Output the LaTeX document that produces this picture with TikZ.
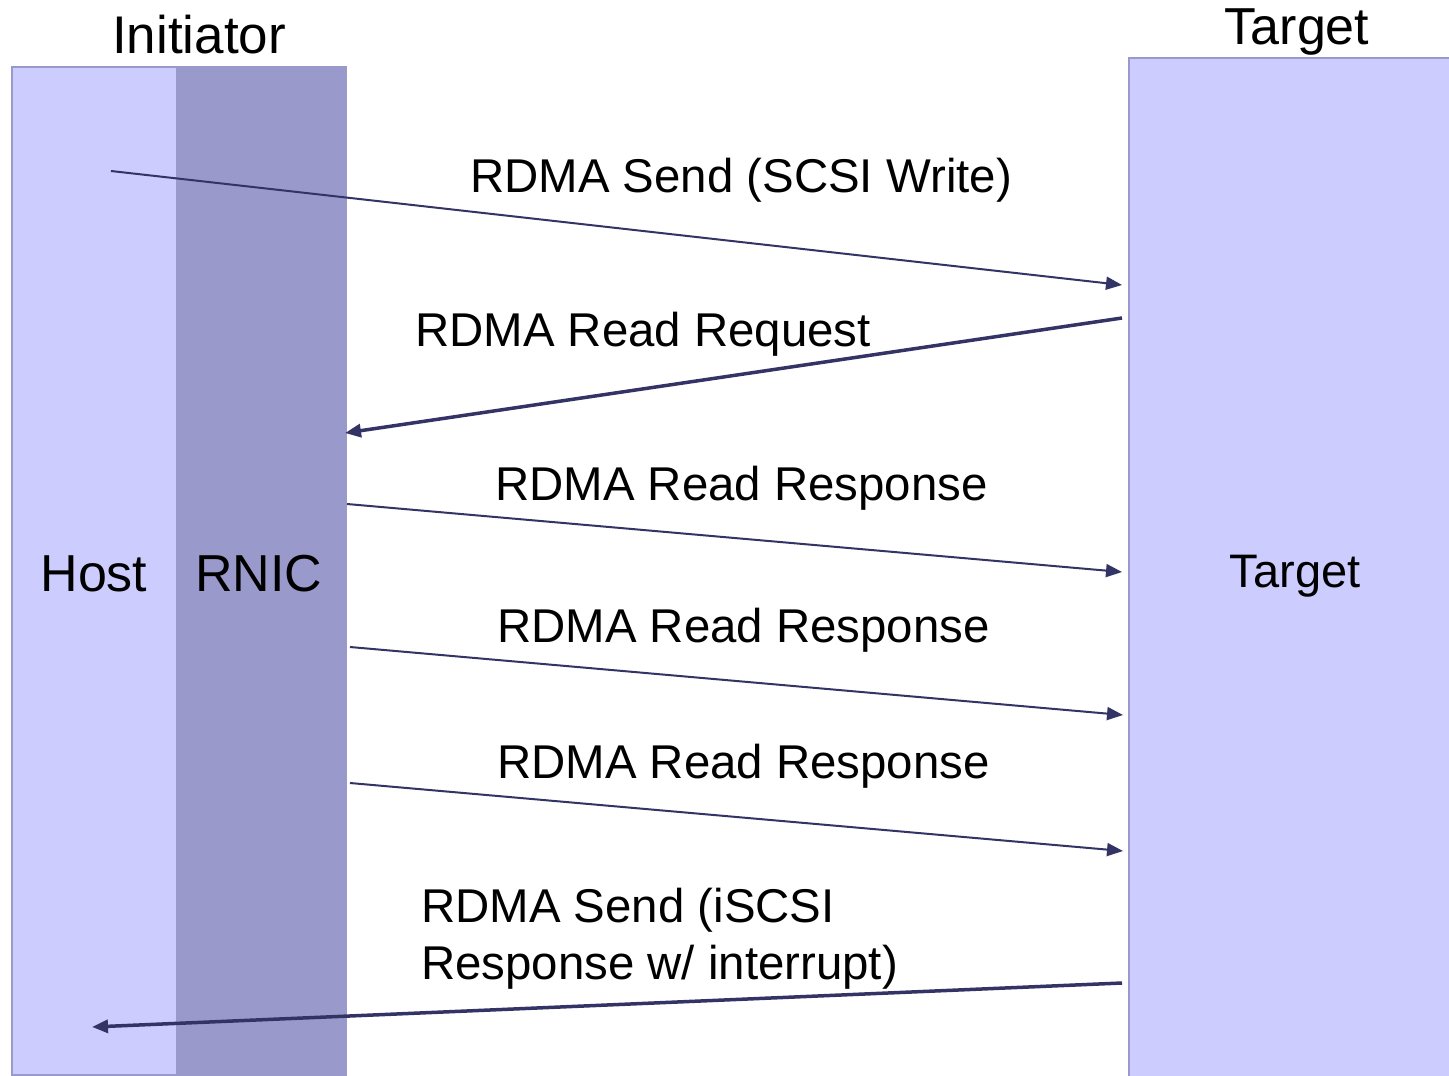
\documentclass[tikz,border=0pt]{standalone}
\usepackage{fontspec}
\setmainfont{Liberation Sans}
\usetikzlibrary{arrows.meta}
\definecolor{lanefill}{HTML}{CCCCFF}
\definecolor{nicfill}{HTML}{9999CC}
\definecolor{msgblue}{HTML}{333366}
\begin{document}
\begin{tikzpicture}[x=1pt,y=-1pt,
  lane/.style={draw=nicfill, line width=2pt, fill=lanefill, inner sep=0pt, anchor=north west},
  niclane/.style={fill=nicfill, inner sep=0pt, anchor=north west},
  msgline/.style={draw=msgblue, line width=2pt, -{Triangle[length=16pt,width=13pt]}},
  msgthick/.style={draw=msgblue, line width=3.5pt, -{Triangle[length=16pt,width=13pt]}},
  lbl/.style={anchor=base west, inner sep=0pt, font=\fontsize{47.4}{54}\selectfont},
  title/.style={anchor=base, inner sep=0pt, font=\fontsize{52}{58}\selectfont}]
\useasboundingbox (0,0) rectangle (1449,1076);
\fill[white] (0,0) rectangle (1449,1076);

% lanes
\node[lane, minimum width=165pt, minimum height=1008pt] (host) at (11,66) {};
\node[niclane, minimum width=171pt, minimum height=1012pt] (rnic) at (176,66) {};
\node[lane, minimum width=340pt, minimum height=1040pt] (target) at (1128,57) {};

% lane titles
\node[title, font=\fontsize{53}{60}\selectfont] (inittitle) at (199,53) {Initiator};
\node[title] (tgttitle) at (1297,44) {Target};
\node[title] (hostlbl) at (94,591) {Host};
\node[title] (rniclbl) at (259,591) {RNIC};
\node[title, font=\fontsize{47}{54}\selectfont] (tgtlbl) at (1295,587) {Target};

% message end points
\coordinate (m1s) at (111,171);  \coordinate (m1e) at (1122,285);
\coordinate (m2s) at (1122,318); \coordinate (m2e) at (345,433);
\coordinate (m3s) at (347,504);  \coordinate (m3e) at (1122,572);
\coordinate (m4s) at (350,647);  \coordinate (m4e) at (1123,715);
\coordinate (m5s) at (350,783);  \coordinate (m5e) at (1123,851);
\coordinate (m6s) at (1122,983); \coordinate (m6e) at (92,1027);

% messages
\draw[msgline] (m1s) -- (m1e);
\draw[msgthick] (m2s) -- (m2e);
\draw[msgline] (m3s) -- (m3e);
\draw[msgline] (m4s) -- (m4e);
\draw[msgline] (m5s) -- (m5e);
\draw[msgthick] (m6s) -- (m6e);

% message labels
\node[lbl] (l1) at (470,192) {RDMA Send (SCSI Write)};
\node[lbl] (l2) at (415,346) {RDMA Read Request};
\node[lbl] (l3) at (495,500) {RDMA Read Response};
\node[lbl] (l4) at (497,642) {RDMA Read Response};
\node[lbl] (l5) at (497,778) {RDMA Read Response};
\node[lbl] (l6a) at (421,922) {RDMA Send (iSCSI};
\node[lbl] (l6b) at (421,979) {Response w/ interrupt)};
\end{tikzpicture}
\end{document}
